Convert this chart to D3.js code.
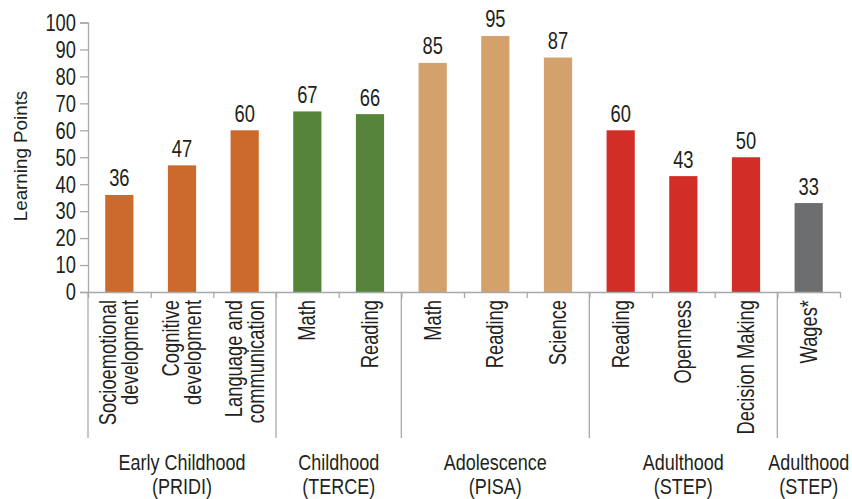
<!DOCTYPE html>
<html>
<head>
<meta charset="utf-8">
<script src="https://cdn.jsdelivr.net/npm/d3@7"></script>
<style>
  html, body { margin: 0; padding: 0; background: #fff; }
  svg { display: block; }
  text { font-family: "Liberation Sans", Arial, sans-serif; fill: #231F20; }
</style>
</head>
<body>
<svg id="chart" width="852" height="499"></svg>
<script>
// ---- data ----
const categories = ["Socioemotional development", "Cognitive development", "Language and communication",
  "Math", "Reading", "Math", "Reading", "Science", "Reading", "Openness", "Decision Making", "Wages*"];
const categoryLines = [["Socioemotional", "development"], ["Cognitive", "development"], ["Language and", "communication"],
  ["Math"], ["Reading"], ["Math"], ["Reading"], ["Science"], ["Reading"], ["Openness"], ["Decision Making"], ["Wages*"]];
const values = [36, 47, 60, 67, 66, 85, 95, 87, 60, 43, 50, 33];
const groupIndex = [0, 0, 0, 1, 1, 2, 2, 2, 3, 3, 3, 4];
const groupLines = [["Early Childhood", "(PRIDI)"], ["Childhood", "(TERCE)"], ["Adolescence", "(PISA)"],
  ["Adulthood", "(STEP)"], ["Adulthood", "(STEP)"]];
const groupColors = ["#CC6A2C", "#56843A", "#D4A06B", "#D12E27", "#6D6E70"];
const yTicks = [0, 10, 20, 30, 40, 50, 60, 70, 80, 90, 100];
const yTitle = "Learning Points";

// ---- layout ----
const svg = d3.select("#chart");
const mLeft = 88, mRight = 840, mTop = 22.5, mBottom = 292;
const axisColor = "#A7A9AC";
const SX = 0.78;          // horizontal condensing of the narrow face
const FS = 23.5;          // font size of narrow text

const x = d3.scaleBand().domain(d3.range(categories.length)).range([mLeft, mRight])
  .paddingInner(0.55).paddingOuter(0.275);
const y = d3.scaleLinear().domain([0, 100]).range([mBottom, mTop]);

function narrowText(sel, tx, ty, str, anchor, rotate, size, sx) {
  const g = sel.append("g").attr("transform", `translate(${tx},${ty})` + (rotate ? ` rotate(${rotate})` : ""));
  g.append("text").attr("transform", `scale(${sx || SX},1)`)
    .attr("text-anchor", anchor).style("font-size", (size || FS) + "px").text(str);
  return g;
}

// bars
svg.append("g").selectAll("rect").data(values).join("rect")
  .attr("x", (d, i) => x(i)).attr("width", x.bandwidth())
  .attr("y", d => y(d)).attr("height", d => y(0) - y(d))
  .attr("fill", (d, i) => groupColors[groupIndex[i]]);

// value labels
const vl = svg.append("g");
values.forEach((v, i) => narrowText(vl, x(i) + x.bandwidth() / 2, y(v) - 8.5, String(v), "middle"));

// y axis
const yAxis = svg.append("g").attr("transform", `translate(${mLeft},0)`)
  .call(d3.axisLeft(y).tickValues(yTicks).tickSize(8).tickFormat(""));
yAxis.select(".domain").attr("stroke", axisColor).attr("stroke-width", 1.3);
yAxis.selectAll(".tick line").attr("stroke", axisColor).attr("stroke-width", 1.3);
const yl = svg.append("g");
yTicks.forEach(t => narrowText(yl, mLeft - 12, y(t) + 8.3, String(t), "end"));

// y title
svg.append("text")
  .attr("transform", `translate(26.5,${(92 + 220) / 2}) rotate(-90)`)
  .attr("text-anchor", "middle").style("font-size", "18.8px").text(yTitle);

// x axis (boundaries)
const bIdx = d3.range(categories.length + 1);
const xb = d3.scaleLinear().domain([0, categories.length]).range([mLeft, mRight]);
const xAxis = svg.append("g").attr("transform", `translate(0,${mBottom})`)
  .call(d3.axisBottom(xb).tickValues(bIdx).tickSize(6).tickSizeOuter(0).tickFormat(""));
xAxis.select(".domain").attr("stroke", axisColor).attr("stroke-width", 1.3);
xAxis.selectAll(".tick line").attr("stroke", axisColor).attr("stroke-width", 1.3);

// group separators
const groupStarts = bIdx.filter(i => i === 0 || (i < categories.length && groupIndex[i] !== groupIndex[i - 1]));
svg.append("g").selectAll("line").data(groupStarts).join("line")
  .attr("x1", i => xb(i)).attr("x2", i => xb(i))
  .attr("y1", mBottom).attr("y2", 438)
  .attr("stroke", axisColor).attr("stroke-width", 1.3);

// category labels (rotated)
const cl = svg.append("g");
categoryLines.forEach((lines, i) => {
  const cx = x(i) + x.bandwidth() / 2;
  const lh = 22;
  const n = lines.length;
  lines.forEach((ln, k) => {
    const bx = cx + 8 + (k - (n - 1) / 2) * lh;
    narrowText(cl, bx, 300, ln, "end", -90);
  });
});

// group labels
const gl = svg.append("g");
groupLines.forEach((lines, gi) => {
  const members = d3.range(categories.length).filter(i => groupIndex[i] === gi);
  const x0 = xb(d3.min(members)), x1 = xb(d3.max(members) + 1);
  const cx = (x0 + x1) / 2;
  lines.forEach((ln, k) => narrowText(gl, cx, 470 + k * 24, ln, "middle", 0, 22.5, 0.8));
});
</script>
</body>
</html>
